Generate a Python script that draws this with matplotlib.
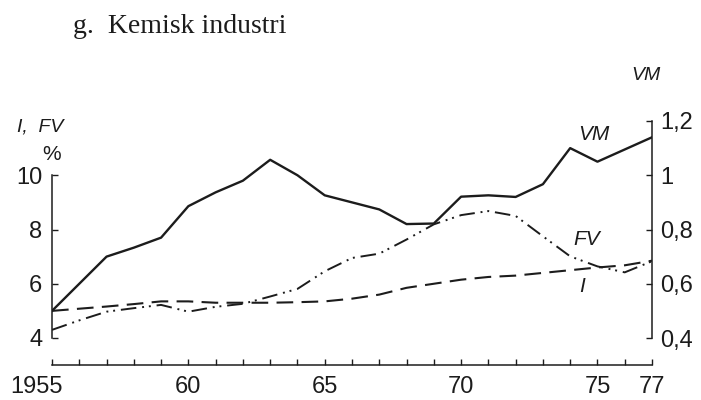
import numpy as np
import matplotlib
matplotlib.use("Agg")
import matplotlib.pyplot as plt
from matplotlib.transforms import ScaledTranslation

years = list(range(1955, 1978))

# I (left axis, %)
inv = [5.0, 5.08, 5.16, 5.25, 5.35, 5.35, 5.3, 5.3, 5.3, 5.32, 5.35, 5.45,
       5.6, 5.85, 6.0, 6.15, 6.25, 6.3, 6.4, 6.5, 6.6, 6.68, 6.85]
# FV (left axis, %)
fv = [4.3, 4.65, 4.97, 5.1, 5.22, 4.97, 5.15, 5.26, 5.53, 5.81, 6.46, 6.95,
      7.11, 7.63, 8.19, 8.53, 8.68, 8.5, 7.75, 7.01, 6.64, 6.42, 6.83]
# VM (right axis)
vm = [0.50, 0.60, 0.70, 0.733, 0.77, 0.886, 0.937, 0.98, 1.057, 1.0, 0.926,
      0.90, 0.874, 0.82, 0.822, 0.921, 0.926, 0.92, 0.967, 1.10, 1.05, 1.095, 1.14]

xticks = [1955, 1960, 1965, 1970, 1975, 1977]
xlabels = ["1955", "60", "65", "70", "75", "77"]
lticks = [4, 6, 8, 10]
rticks = [0.4, 0.6, 0.8, 1.0, 1.2]
rlabels = ["0,4", "0,6", "0,8", "1", "1,2"]

ink = "#1c1c1c"
plt.rcParams['font.family'] = ['Liberation Sans', 'DejaVu Sans']

fig = plt.figure(figsize=(7.01, 4.0), dpi=100)
ax = fig.add_axes([52/701, 1-338/400, 600/701, 217/400])
ax2 = ax.twinx()

ax.plot(years, inv, color=ink, lw=1.5, dashes=(8, 4))
ax.plot(years, fv, color=ink, lw=1.4, dashes=(8, 3, 1, 2.5, 1, 3))
ax2.plot(years, vm, color=ink, lw=1.7)

ax.set_xlim(1955, 1977)
ax.set_ylim(4, 12)
ax2.set_ylim(0.4, 1.2)

for s in ["top", "right"]:
    ax.spines[s].set_visible(False)
for s in ["top", "left", "bottom"]:
    ax2.spines[s].set_visible(False)
for sp in [ax.spines["left"], ax.spines["bottom"], ax2.spines["right"]]:
    sp.set_linewidth(1.1)
    sp.set_color(ink)
ax.spines["left"].set_bounds(4, 10)
ax.spines["bottom"].set_bounds(1955, 1977)
ax.spines["bottom"].set_position(("outward", 19.4))
ax2.spines["right"].set_bounds(0.4, 1.2)

ax.set_xticks(xticks)
ax.set_xticklabels(xlabels)
ax.set_xticks(years, minor=True)
ax.set_yticks(lticks)
ax.set_yticklabels([str(v) for v in lticks])
ax2.set_yticks(rticks)
ax2.set_yticklabels(rlabels)

ax.tick_params(axis="x", which="both", direction="in", length=4, width=1,
               color=ink, labelsize=17, pad=8, labelcolor=ink)
ax.tick_params(axis="y", direction="in", length=4.5, width=1, color=ink,
               labelsize=17, pad=7, labelcolor=ink)
ax2.tick_params(axis="y", direction="in", length=4.5, width=1, color=ink,
                labelsize=17, pad=6, labelcolor=ink)

# 1955 label sits left of its tick
lab = ax.get_xticklabels()[0]
lab.set_transform(lab.get_transform() + ScaledTranslation(-0.155, 0, fig.dpi_scale_trans))

# curve labels
ax.text(1974.85, 11.52, "VM", style="italic", fontsize=15, color=ink,
        ha="center", va="center")
ax.text(1974.6, 7.63, "FV", style="italic", fontsize=15, color=ink,
        ha="center", va="center")
ax.text(1974.45, 5.89, "I", style="italic", fontsize=15, color=ink,
        ha="center", va="center")

# axis labels
fig.text(17/701, 1-127/400, "I,  FV", style="italic", fontsize=14, color=ink,
         ha="left", va="center")
fig.text(52/701, 1-155/400, "%", fontsize=15, color=ink, ha="center", va="center")
fig.text(646/701, 1-75/400, "VM", style="italic", fontsize=14, color=ink,
         ha="center", va="center")

fig.text(73/701, 1-33/400, "g.  Kemisk industri", family="Liberation Serif",
         fontsize=20, color=ink, ha="left", va="baseline")

fig.savefig("out.png", dpi=100)
